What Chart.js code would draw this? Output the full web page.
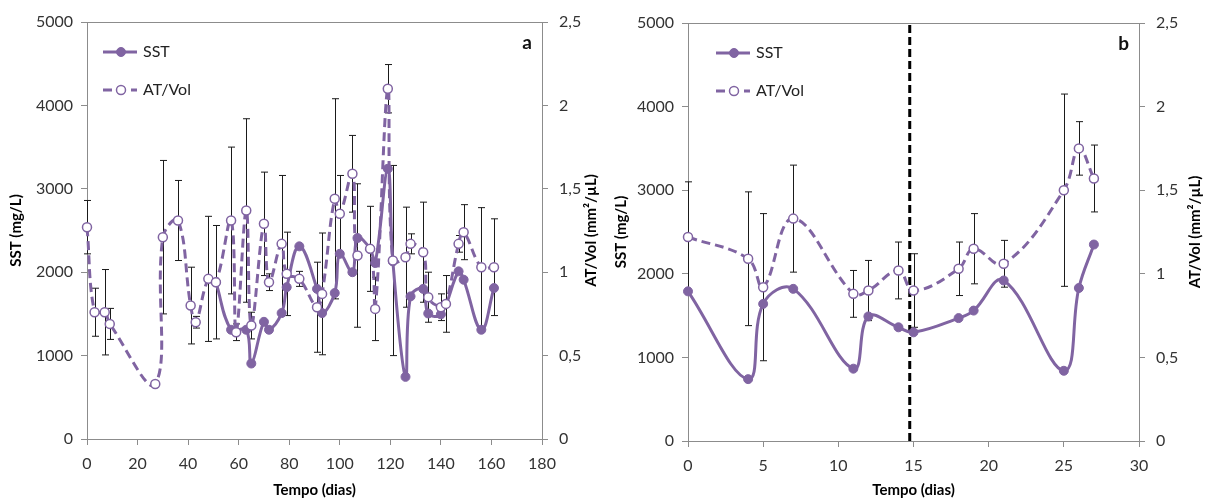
<!DOCTYPE html>
<html>
<head>
<meta charset="utf-8">
<script src="https://cdn.jsdelivr.net/npm/chart.js@4.4.1/dist/chart.umd.min.js"></script>
<style>
    html, body { margin: 0; padding: 0; background: #fff; }
    #wrap { position: relative; width: 1206px; height: 499px; }
    canvas { position: absolute; top: 0; }
</style>
</head>
<body>
<div id="wrap">
    <canvas id="chartA" width="603" height="499" style="left:0"></canvas>
    <canvas id="chartB" width="603" height="499" style="left:603px"></canvas>
</div>
<script>
// ---- panel a data ----
const daysA_SST = [51, 57, 63, 65, 70, 72, 77, 79, 84, 91, 93, 98, 100, 105, 107, 112, 114, 119, 121, 126, 128, 133, 135, 140, 147, 149, 156, 161];
const sstA = [1880, 1310, 1310, 905, 1405, 1310, 1510, 1820, 2310, 1800, 1510, 1750, 2220, 2000, 2410, 2280, 2110, 3240, 2130, 745, 1710, 1800, 1505, 1495, 2010, 1910, 1310, 1810];

const daysA_AT = [0, 3, 7, 9, 27, 30, 36, 41, 43, 48, 51, 57, 59, 63, 65, 70, 72, 77, 79, 84, 91, 93, 98, 100, 105, 107, 112, 114, 119, 121, 126, 128, 133, 135, 140, 142, 147, 149, 156, 161];
const atA = [1.27, 0.76, 0.76, 0.69, 0.33, 1.21, 1.31, 0.80, 0.70, 0.96, 0.94, 1.31, 0.64, 1.37, 0.68, 1.29, 0.94, 1.17, 0.99, 0.96, 0.79, 0.87, 1.44, 1.35, 1.59, 1.10, 1.14, 0.78, 2.10, 1.07, 1.09, 1.17, 1.12, 0.85, 0.79, 0.81, 1.17, 1.24, 1.03, 1.03];
const atA_err = [0.16, 0.144, 0.256, 0.093, 0, 0.46, 0.24, 0.23, 0.035, 0.375, 0.34, 0.44, 0.05, 0.55, 0.08, 0.31, 0.05, 0.41, 0.25, 0.045, 0.27, 0.365, 0.60, 0.23, 0.23, 0.43, 0.255, 0.19, 0.145, 0.57, 0.30, 0.06, 0.30, 0.15, 0.08, 0.17, 0.05, 0.165, 0.357, 0.29];

// ---- panel b data ----
const daysB = [0, 4, 5, 7, 11, 12, 14, 15, 18, 19, 21, 25, 26, 27];
const sstB = [1790, 740, 1640, 1820, 865, 1490, 1360, 1300, 1470, 1560, 1920, 840, 1830, 2350];
const atB = [1.22, 1.09, 0.92, 1.33, 0.88, 0.90, 1.02, 0.90, 1.03, 1.15, 1.06, 1.50, 1.75, 1.57];
const atB_err = [0.33, 0.40, 0.44, 0.32, 0.14, 0.18, 0.17, 0.22, 0.16, 0.21, 0.14, 0.575, 0.16, 0.20];
const markerDayB = 14.75;

const PURPLE = "#8064A2";
const AXIS = "#8c8c8c";
const TXT = "#333333";
const FONT = "Lato, 'Open Sans', sans-serif";

// error bars drawn under the lines and markers
const errorBarPlugin = {
    id: "errorBars",
    beforeDatasetsDraw(chart) {
        const ctx = chart.ctx;
        const xs = chart.scales.x;
        chart.data.datasets.forEach(ds => {
            if (!ds.errorBars) return;
            const ys = chart.scales[ds.yAxisID];
            ctx.save();
            ctx.strokeStyle = "#1a1a1a";
            ctx.lineWidth = 1;
            ds.data.forEach((p, i) => {
                const e = ds.errorBars[i];
                if (!e) return;
                const px = Math.round(xs.getPixelForValue(p.x)) + 0.5;
                const top = ys.getPixelForValue(p.y + e);
                const bot = ys.getPixelForValue(p.y - e);
                ctx.beginPath();
                ctx.moveTo(px, top); ctx.lineTo(px, bot);
                ctx.moveTo(px - 3.5, top); ctx.lineTo(px + 3.5, top);
                ctx.moveTo(px - 3.5, bot); ctx.lineTo(px + 3.5, bot);
                ctx.stroke();
            });
            ctx.restore();
        });
    }
};

// top frame line, legend, panel letter, right title, optional dashed marker line
const decorPlugin = {
    id: "decor",
    beforeDatasetsDraw(chart, args, o) {
        const { ctx, chartArea } = chart;
        ctx.save();
        ctx.strokeStyle = AXIS;
        ctx.lineWidth = 1;
        ctx.beginPath();
        ctx.moveTo(chartArea.left, Math.round(chartArea.top) + 0.5);
        ctx.lineTo(chartArea.right, Math.round(chartArea.top) + 0.5);
        ctx.stroke();
        if (o.vline !== undefined) {
            const vx = chart.scales.x.getPixelForValue(o.vline);
            ctx.strokeStyle = "#000";
            ctx.lineWidth = 3;
            ctx.setLineDash([8, 4]);
            ctx.beginPath();
            ctx.moveTo(vx, chartArea.top + 2);
            ctx.lineTo(vx, chartArea.bottom);
            ctx.stroke();
        }
        ctx.restore();
    },
    afterDraw(chart, args, o) {
        const { ctx, chartArea } = chart;
        ctx.save();
        const items = [chart.data.datasets[1], chart.data.datasets[0]];
        items.forEach((ds, i) => {
            const y = chartArea.top + 30 + i * 38;
            const x0 = chartArea.left + o.legendX;
            ctx.strokeStyle = PURPLE;
            ctx.lineWidth = 3;
            ctx.setLineDash(ds.borderDash || []);
            ctx.beginPath();
            ctx.moveTo(x0, y); ctx.lineTo(x0 + 34, y);
            ctx.stroke();
            ctx.setLineDash([]);
            ctx.beginPath();
            ctx.arc(x0 + 18, y, 4.5, 0, Math.PI * 2);
            ctx.fillStyle = ds.pointBackgroundColor;
            ctx.fill();
            ctx.lineWidth = ds.pointBorderWidth;
            ctx.stroke();
            ctx.fillStyle = "#222";
            ctx.font = "16px " + FONT;
            ctx.textBaseline = "middle";
            ctx.fillText(ds.label, x0 + 40, y);
        });
        ctx.font = "bold 19px " + FONT;
        ctx.fillStyle = "#111";
        ctx.textAlign = "right";
        ctx.fillText(o.letter, chartArea.right - 10, chartArea.top + 21);

        // right axis title, reading bottom to top like the left one
        ctx.translate(chart.width - o.rightTitleOff, (chartArea.top + chartArea.bottom) / 2);
        ctx.rotate(-Math.PI / 2);
        ctx.textAlign = "center";
        ctx.textBaseline = "middle";
        ctx.font = "bold 15px " + FONT;
        ctx.fillStyle = "#000";
        ctx.fillText("AT/Vol (mm²/µL)", 0, 0);
        ctx.restore();
    }
};

function makeChart(id, cfg) {
    const sst = {
        label: "SST",
        data: cfg.sstX.map((x, i) => ({ x: x, y: cfg.sst[i] })),
        yAxisID: "y",
        borderColor: PURPLE,
        backgroundColor: PURPLE,
        borderWidth: 3,
        tension: 0.4,
        pointRadius: 4.5,
        pointBackgroundColor: PURPLE,
        pointBorderColor: PURPLE,
        pointBorderWidth: 1,
        clip: false
    };
    const at = {
        label: "AT/Vol",
        data: cfg.atX.map((x, i) => ({ x: x, y: cfg.at[i] })),
        errorBars: cfg.atErr,
        yAxisID: "y1",
        borderColor: PURPLE,
        backgroundColor: "#fff",
        borderWidth: 3,
        borderDash: [9, 5],
        tension: 0.4,
        pointRadius: 4.5,
        pointBackgroundColor: "#fff",
        pointBorderColor: PURPLE,
        pointBorderWidth: 1.5,
        clip: false
    };
    const tickFont = { family: FONT, size: 16 };
    const titleFont = { family: FONT, size: 15, weight: "bold" };
    const grid = { drawOnChartArea: false, tickLength: 6, color: AXIS };
    return new Chart(document.getElementById(id), {
        type: "line",
        data: { datasets: [at, sst] },
        options: {
            responsive: false,
            animation: false,
            devicePixelRatio: 1,
            layout: { padding: { top: cfg.top, left: 0, right: 0, bottom: 0 } },
            plugins: {
                legend: { display: false },
                tooltip: { enabled: false },
                decor: { letter: cfg.letter, legendX: cfg.legendX, vline: cfg.vline, rightTitleOff: cfg.rightTitleOff }
            },
            scales: {
                x: {
                    type: "linear",
                    min: 0,
                    max: cfg.xMax,
                    ticks: { stepSize: cfg.xStep, color: TXT, font: tickFont, padding: 9, callback: v => String(v) },
                    grid: grid,
                    border: { color: AXIS },
                    title: { display: true, text: "Tempo (dias)", color: "#000", font: titleFont, padding: { top: 0, bottom: 0 } },
                    afterFit: s => { s.height = cfg.bottomH; }
                },
                y: {
                    position: "left",
                    min: 0,
                    max: 5000,
                    ticks: { stepSize: 1000, color: TXT, font: tickFont, padding: 8, callback: v => String(v) },
                    grid: grid,
                    border: { color: AXIS },
                    title: { display: true, text: "SST (mg/L)", color: "#000", font: titleFont, padding: { top: cfg.leftTitlePad, bottom: 0 } },
                    afterFit: s => { s.width = cfg.leftW; }
                },
                y1: {
                    position: "right",
                    min: 0,
                    max: 2.5,
                    ticks: {
                        stepSize: 0.5, color: TXT, font: tickFont, padding: 11,
                        callback: v => String(v).replace(".", ",")
                    },
                    grid: grid,
                    border: { color: AXIS },
                    afterFit: s => { s.width = cfg.rightW; }
                }
            }
        },
        plugins: [errorBarPlugin, decorPlugin]
    });
}

makeChart("chartA", {
    sstX: daysA_SST, sst: sstA, atX: daysA_AT, at: atA, atErr: atA_err,
    xMax: 180, xStep: 20, letter: "a", legendX: 16,
    top: 22, bottomH: 60, leftW: 87, rightW: 61, leftTitlePad: 7, rightTitleOff: 12
});

makeChart("chartB", {
    sstX: daysB, sst: sstB, atX: daysB, at: atB, atErr: atB_err,
    xMax: 30, xStep: 5, letter: "b", legendX: 28, vline: markerDayB,
    top: 23, bottomH: 58, leftW: 85, rightW: 67, leftTitlePad: 9, rightTitleOff: 11
});
</script>
</body>
</html>
